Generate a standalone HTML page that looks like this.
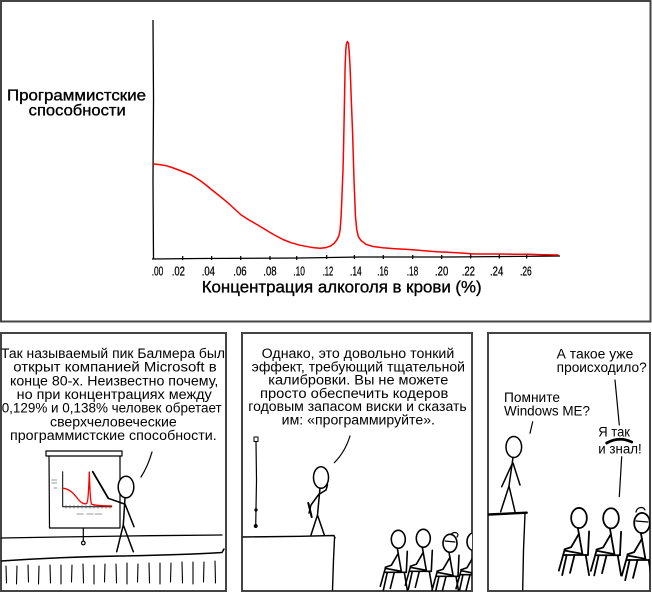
<!DOCTYPE html>
<html><head><meta charset="utf-8"><style>
html,body{margin:0;padding:0;background:#fff;}
svg{display:block;}
text{font-family:"Liberation Sans","DejaVu Sans",sans-serif;fill:#000;}
</style></head><body>
<svg width="652" height="592" viewBox="0 0 652 592" xmlns="http://www.w3.org/2000/svg">
<defs>
<g id="sit" fill="none" stroke="#000" stroke-width="1.6" stroke-linecap="round" stroke-linejoin="round">
<ellipse cx="0" cy="0" rx="7" ry="9" fill="#fff"/>
<path d="M-1,9 L3,32"/>
<path d="M3,32 L-13,29 L-18,47"/>
<path d="M0,14 L-7,26 L-13,28"/>
<path d="M9,12 L8,33"/>
<path d="M-14,33 L8,33"/>
<path d="M-11,33 L-15,51 M6,33 L9,51 M-4,33 L-8,49"/>
</g>
<clipPath id="c1"><rect x="1" y="333" width="225" height="258"/></clipPath>
<clipPath id="c2"><rect x="242" y="333" width="230" height="258"/></clipPath>
<clipPath id="c3"><rect x="488" y="333" width="162" height="258"/></clipPath>
</defs>
<rect x="0" y="0" width="652" height="592" fill="#fff"/>

<!-- TOP PANEL -->
<rect x="1" y="1" width="649.5" height="320.5" fill="none" stroke="#444" stroke-width="2"/>
<path d="M153,20 L153.5,100 L153,180 L153.5,259" fill="none" stroke="#000" stroke-width="1.3"/>
<path d="M152,259 L200,258.5 L300,258 L360,257 L450,257 L560,256" fill="none" stroke="#000" stroke-width="1.3"/>
<g stroke="#000" stroke-width="1.2">
<path d="M182.7,256 V260 M211.7,256 V260 M240.7,256 V260 M270,256 V260 M296.7,256 V260 M326.7,255 V259 M354.3,255 V259 M383.3,255 V259 M412.7,255 V259 M441.7,255 V259 M470.7,254.5 V258.5 M499.3,254.5 V258.5 M526.7,254.5 V258.5"/>
</g>
<polyline fill="none" stroke="#f00" stroke-width="1.5" stroke-linejoin="round" stroke-linecap="round" points="153.8,164 160,164.6 166.3,165.7 172,167.5 180,170.5 191.3,175 200,180.5 206,185 212,190 219,195.5 226.6,201.7 233,207.5 241.2,215 249,220 257.8,225 266,230 274.4,235 283,239.5 291,242.7 300,245.2 307.7,246.7 314,247.8 320.2,248.3 326,247.6 330.6,246 334,243.5 336.8,240 339,235.5 340.1,230 341,218 341.8,200 343,170 343.5,150 344.3,110 345.1,67 345.8,50 346.4,44 347.4,41.5 348.4,43 349.2,52 350.1,67 351.3,100 352.6,133 354,180 355.5,217 356.8,230 358.4,236.7 361,240.5 365.9,244.3 373,246.5 382.5,247.7 395,248.7 405,249.3 415.8,250 427,251 436.6,251.7 447,252.2 457.4,252.7 466,253.4 474,254 486,254 499,254 514,254.2 528,254.3 543,254.7 558,255"/>
<g font-size="16" stroke="#000" stroke-width="0.35">
<text x="7" y="100.5" textLength="139" lengthAdjust="spacingAndGlyphs">Программистские</text>
<text x="28.7" y="115.5" textLength="97" lengthAdjust="spacingAndGlyphs">способности</text>
</g>
<text x="201.7" y="292.5" font-size="17" stroke="#000" stroke-width="0.35" textLength="280" lengthAdjust="spacingAndGlyphs">Концентрация алкоголя в крови (%)</text>
<g font-size="12.5" stroke="#000" stroke-width="0.25">
<text x="151.7" y="275.5" textLength="11.6" lengthAdjust="spacingAndGlyphs">.00</text>
<text x="171.7" y="275.5" textLength="13.3" lengthAdjust="spacingAndGlyphs">.02</text>
<text x="201.7" y="275.5" textLength="13.3" lengthAdjust="spacingAndGlyphs">.04</text>
<text x="233.3" y="275.5" textLength="13.3" lengthAdjust="spacingAndGlyphs">.06</text>
<text x="263.3" y="275.5" textLength="13.3" lengthAdjust="spacingAndGlyphs">.08</text>
<text x="293.3" y="275.5" textLength="11.7" lengthAdjust="spacingAndGlyphs">.10</text>
<text x="322.7" y="275.5" textLength="10.6" lengthAdjust="spacingAndGlyphs">.12</text>
<text x="350" y="275.5" textLength="11.7" lengthAdjust="spacingAndGlyphs">.14</text>
<text x="377.3" y="275.5" textLength="11" lengthAdjust="spacingAndGlyphs">.16</text>
<text x="406.7" y="275.5" textLength="11.6" lengthAdjust="spacingAndGlyphs">.18</text>
<text x="435" y="275.5" textLength="13.3" lengthAdjust="spacingAndGlyphs">.20</text>
<text x="461.7" y="275.5" textLength="13.3" lengthAdjust="spacingAndGlyphs">.22</text>
<text x="490" y="275.5" textLength="13.3" lengthAdjust="spacingAndGlyphs">.24</text>
<text x="520" y="275.5" textLength="11.7" lengthAdjust="spacingAndGlyphs">.26</text>
</g>

<!-- PANEL 1 -->
<rect x="1" y="333" width="225" height="258" fill="none" stroke="#444" stroke-width="2"/>
<g font-size="13.5">
<text x="1" y="358" textLength="224" lengthAdjust="spacingAndGlyphs">Так называемый пик Балмера был</text>
<text x="13.3" y="371.7" textLength="203.4" lengthAdjust="spacingAndGlyphs">открыт компанией Microsoft в</text>
<text x="10" y="385.3" textLength="208.3" lengthAdjust="spacingAndGlyphs">конце 80-х. Неизвестно почему,</text>
<text x="16.7" y="399" textLength="195" lengthAdjust="spacingAndGlyphs">но при концентрациях между</text>
<text x="1.7" y="412.7" textLength="220" lengthAdjust="spacingAndGlyphs">0,129% и 0,138% человек обретает</text>
<text x="50" y="426.3" textLength="126.7" lengthAdjust="spacingAndGlyphs">сверхчеловеческие</text>
<text x="10" y="440" textLength="206.7" lengthAdjust="spacingAndGlyphs">программистские способности.</text>
</g>
<g clip-path="url(#c1)" fill="none" stroke="#000" stroke-width="1.5" stroke-linecap="round" stroke-linejoin="round">
<rect x="46" y="451" width="76" height="5" fill="#fff" stroke-width="1.2"/>
<path d="M49,456 L49.5,528 L120,528 M120,456 L120,528" stroke-width="1.2"/>
<path d="M83.3,528 L83.3,541" stroke-width="1.2"/>
<circle cx="83.3" cy="543" r="1.8" stroke-width="1.2"/>
<path d="M62.7,471.7 L62.7,506.7 L111.7,506.7" stroke-width="1"/>
<path d="M66,505 V508.5 M70,505 V508.5 M74,505 V508.5 M78,505 V508.5 M82,505 V508.5 M86,505 V508.5 M90,505 V508.5 M94,505 V508.5 M98,505 V508.5 M102,505 V508.5 M106,505 V508.5 M110,505 V508.5" stroke-width="0.6" stroke="#555"/>
<path d="M51.7,480 H56.7 M51.7,483 H56.7 M54,488 H57 M76.7,514 H83.3 M86.7,514 H93.3 M95,514 H101.7" stroke-width="0.8" stroke="#777"/>
<path d="M63.3,488.3 C70,489 74,494 78,499 C81,503 85,505 87,503 C88.5,500 88.8,485 89.3,472 C89.8,485 90,500 91.5,504 C95,506 105,506 111.7,506" stroke="#f00" stroke-width="1.3"/>
<path d="M92.7,471.7 L108.3,498.3" stroke-width="1.8"/>
<ellipse cx="126" cy="487" rx="7.8" ry="10.8" fill="#fff"/>
<path d="M125,498 L123.3,525 M123.3,525 L116.7,551.7 M123.3,525 L133.3,551.7 M124.5,504 L108.3,498.3 M125,504 L134,526.7"/>
<path d="M152,452 Q148,466 141,477" stroke-width="1.2"/>
<path d="M1,538 L60,537 L150,535.7 L222,535" stroke-width="1.3"/>
<path d="M1,561 Q60,557 120,556 T222,552.5 L224,549" stroke-width="1.5"/>
<path d="M6,566 L6.5,583 M17,566 L16.5,584 M28,565 L28.5,582 M39,566 L38.5,584 M50,565 L50.5,583 M61,565 L61,584 M72,565 L71.5,582 M83,564 L83.5,583 M94,565 L94,584 M105,564 L104.5,582 M116,564 L116.5,583 M127,563 L127,584 M138,564 L137.5,582 M149,563 L149.5,583 M160,563 L160,584 M171,563 L170.5,582 M182,562 L182.5,583 M193,562 L193,584 M204,562 L203.5,582 M215,561 L215.5,583" stroke-width="1.1"/>
</g>

<!-- PANEL 2 -->
<rect x="242" y="333" width="230" height="258" fill="none" stroke="#444" stroke-width="2"/>
<g font-size="13.5">
<text x="261.7" y="358" textLength="192.6" lengthAdjust="spacingAndGlyphs">Однако, это довольно тонкий</text>
<text x="251.7" y="371.3" textLength="213.3" lengthAdjust="spacingAndGlyphs">эффект, требующий тщательной</text>
<text x="268.3" y="384.6" textLength="180" lengthAdjust="spacingAndGlyphs">калибровки. Вы не можете</text>
<text x="260" y="397.9" textLength="188.3" lengthAdjust="spacingAndGlyphs">просто обеспечить кодеров</text>
<text x="248.3" y="411.2" textLength="218.4" lengthAdjust="spacingAndGlyphs">годовым запасом виски и сказать</text>
<text x="281.7" y="424.5" textLength="153.3" lengthAdjust="spacingAndGlyphs">им: «программируйте».</text>
</g>
<g clip-path="url(#c2)" fill="none" stroke="#000" stroke-width="1.5" stroke-linecap="round" stroke-linejoin="round">
<path d="M350,436 Q345,452 334.3,462.7" stroke-width="1.2"/>
<rect x="254" y="437" width="4" height="4.5" stroke-width="1"/>
<path d="M256,441.5 L256.5,480 L255.7,526" stroke-width="1.2"/>
<circle cx="256" cy="510" r="0.9" fill="#000"/>
<circle cx="255.7" cy="526" r="1.2" fill="#000"/>
<ellipse cx="321" cy="477.5" rx="7.5" ry="10.8" fill="#fff"/>
<path d="M320,488 L317.5,515 M317.5,515 L311,535 M317.5,515 L324.3,535 M319.5,494 L326,490 L327.5,485 M319,494 L311,505 L309,513"/>
<path d="M308.3,503 L311.7,517" stroke-width="2"/>
<path d="M243,537 L300,536.3 L334,535.5 L335,538" stroke-width="1.4"/>
<path d="M334.5,538 L333.5,560 L332.5,590" stroke-width="1.4"/>
<use href="#sit" x="398.3" y="539.3"/>
<use href="#sit" x="423.3" y="538.3"/>
<use href="#sit" x="450" y="543.3"/>
<path d="M451,534 C455,531 460,533 457,537" stroke-width="1.2"/>
<path d="M445,541 L455,542" stroke-width="1.2"/>
<use href="#sit" x="474" y="541.7"/>
</g>

<!-- PANEL 3 -->
<rect x="488" y="333" width="162" height="258" fill="none" stroke="#444" stroke-width="2"/>
<g font-size="13.5">
<text x="556.7" y="358.5" textLength="76.6" lengthAdjust="spacingAndGlyphs">А такое уже</text>
<text x="556.7" y="372" textLength="90" lengthAdjust="spacingAndGlyphs">происходило?</text>
<text x="504" y="402" textLength="56" lengthAdjust="spacingAndGlyphs">Помните</text>
<text x="504" y="415.7" textLength="86" lengthAdjust="spacingAndGlyphs">Windows ME?</text>
<text x="598.3" y="436.5" textLength="31.7" lengthAdjust="spacingAndGlyphs">Я так</text>
<text x="598.3" y="453.3" textLength="43.4" lengthAdjust="spacingAndGlyphs">и знал!</text>
</g>
<g clip-path="url(#c3)" fill="none" stroke="#000" stroke-width="1.5" stroke-linecap="round" stroke-linejoin="round">
<path d="M606.7,443 Q619,436 631.7,442" stroke-width="2.8"/>
<path d="M615,380 L619.3,425" stroke-width="1.2"/>
<path d="M532.7,421.7 L530,433.3" stroke-width="1.2"/>
<path d="M621.7,456.7 L619.3,496.7" stroke-width="1.2"/>
<ellipse cx="513.8" cy="447" rx="7.8" ry="10.5" fill="#fff"/>
<path d="M513,457.5 L509,486 M509,486 L500.7,511.7 M509,486 L515,511.7 M512.5,463 L501.7,486.7 M513,463 L520,485"/>
<path d="M489,514.5 L526.7,512.7" stroke-width="2.4"/>
<path d="M525,514 L523.5,550 L522.7,590" stroke-width="1.4"/>
<g transform="translate(579,518) scale(1.12)"><use href="#sit"/></g>
<g transform="translate(611,518.3) scale(1.12)"><use href="#sit"/></g>
<g transform="translate(642,523) scale(1.12)"><use href="#sit"/></g>
<path d="M636,512 C637,507 643,506 645,510" stroke-width="1.2"/>
<path d="M636,521 L648,522" stroke-width="1.2"/>
</g>
</svg>
</body></html>
